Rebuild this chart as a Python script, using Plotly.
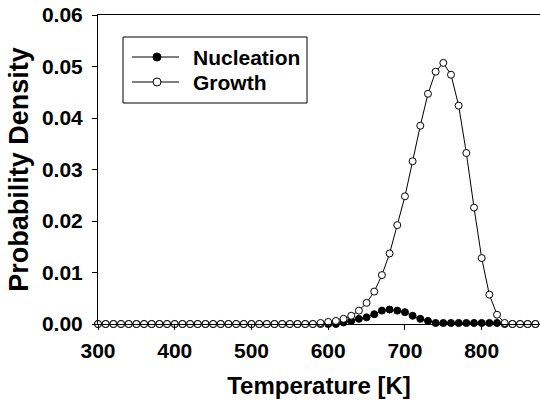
import plotly.graph_objects as go

# Temperature grid [K]
temperature = list(range(300, 880, 10))

# Probability density of nucleation (filled markers)
nucleation = [0.0] * 32 + [
    0.0003, 0.0006, 0.0010, 0.0013, 0.0019, 0.0026, 0.0028, 0.0026,  # 620-690
    0.0023, 0.0016, 0.0010, 0.0006, 0.0002, 0.0002, 0.0002, 0.0002,  # 700-770
    0.0002, 0.0002, 0.0002, 0.0002, 0.0002,                          # 780-820
] + [0.0] * 5

# Probability density of growth (open markers)
growth = [0.0] * 29 + [
    0.0002, 0.0004, 0.0006, 0.0010, 0.0016, 0.0026, 0.0041, 0.0063,  # 590-660
    0.0095, 0.0137, 0.0192, 0.0248, 0.0316, 0.0385, 0.0447, 0.0490,  # 670-740
    0.0507, 0.0484, 0.0424, 0.0332, 0.0226, 0.0128, 0.0057, 0.0018,  # 750-820
    0.0002,                                                          # 830
] + [0.0] * 4

y_ticks = [0.00, 0.01, 0.02, 0.03, 0.04, 0.05, 0.06]
x_ticks = [300, 400, 500, 600, 700, 800]

FONT = "Liberation Sans, Arial, sans-serif"
W, H = 540, 404
M_L, M_R, M_T, M_B = 98, 0, 15, 80
PLOT_W, PLOT_H = W - M_L - M_R, H - M_T - M_B


def px_x(px):
    """Horizontal pixel position -> paper coordinate."""
    return (px - M_L) / PLOT_W


def px_y(py):
    """Vertical pixel position (from top) -> paper coordinate."""
    return (H - M_B - py) / PLOT_H


series = [
    dict(name="Nucleation", y=nucleation, fill="black"),
    dict(name="Growth", y=growth, fill="white"),
]

fig = go.Figure()
for s in series:
    fig.add_trace(go.Scatter(
        x=temperature, y=s["y"], name=s["name"], mode="lines+markers",
        line=dict(color="black", width=1),
        marker=dict(symbol="circle", size=7, color=s["fill"],
                    line=dict(color="black", width=1)),
        cliponaxis=False, showlegend=False,
    ))

# Boxed key in the upper-left corner of the plot
shapes = [dict(type="rect", xref="paper", yref="paper",
               x0=px_x(123), x1=px_x(307), y0=px_y(103), y1=px_y(37),
               line=dict(color="black", width=1), fillcolor="white", layer="above")]
annotations = []
for i, s in enumerate(series):
    row_y = px_y(57 + 25 * i)
    shapes.append(dict(type="line", xref="paper", yref="paper",
                       x0=px_x(132), x1=px_x(179), y0=row_y, y1=row_y,
                       line=dict(color="black", width=1), layer="above"))
    shapes.append(dict(type="circle", xref="paper", yref="paper",
                       xsizemode="pixel", ysizemode="pixel",
                       xanchor=px_x(157), yanchor=row_y,
                       x0=-4, x1=4, y0=-4, y1=4,
                       line=dict(color="black", width=1),
                       fillcolor=s["fill"], layer="above"))
    annotations.append(dict(xref="paper", yref="paper", x=px_x(191), y=row_y,
                            xanchor="left", yanchor="middle", showarrow=False,
                            text=s["name"],
                            font=dict(family=FONT, size=21, weight="bold", color="black")))

fig.update_layout(
    width=W, height=H,
    margin=dict(l=M_L, r=M_R, t=M_T, b=M_B),
    paper_bgcolor="white", plot_bgcolor="white",
    font=dict(family=FONT, color="black"),
    shapes=shapes, annotations=annotations,
    xaxis=dict(
        range=[300, 876], tickvals=x_ticks,
        ticks="outside", ticklen=5, tickcolor="black", tickwidth=1,
        showline=True, linecolor="black", linewidth=1, mirror=True,
        showgrid=False, zeroline=False,
        ticklabelstandoff=3,
        tickfont=dict(family=FONT, size=21, weight="bold", color="black"),
        title=dict(text="Temperature [K]", standoff=15,
                   font=dict(family=FONT, size=24, weight="bold", color="black")),
    ),
    yaxis=dict(
        range=[0, 0.06], tickvals=y_ticks, tickformat=".2f",
        ticks="outside", ticklen=5, tickcolor="black", tickwidth=1,
        showline=True, linecolor="black", linewidth=1,
        showgrid=False, zeroline=False,
        ticklabelstandoff=5,
        tickfont=dict(family=FONT, size=21, weight="bold", color="black"),
        title=dict(text="Probability Density", standoff=5,
                   font=dict(family=FONT, size=27, weight="bold", color="black")),
    ),
)

fig.write_html("out.html")
